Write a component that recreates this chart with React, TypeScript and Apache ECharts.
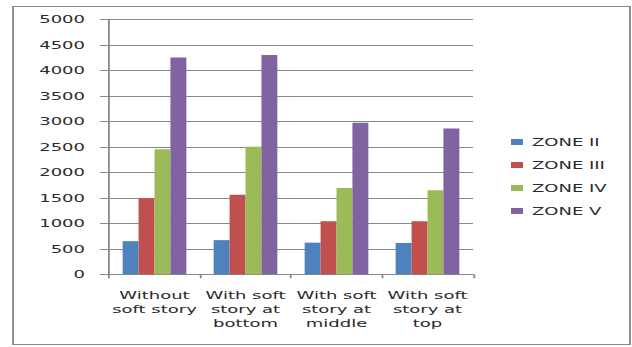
import React, { useEffect, useRef } from "react";
import * as echarts from "echarts";

// Horizontal stretch applied to the whole drawing (wide, spaced-out look)
const STRETCH = 1.8;
const FULL_W = 632;
const FULL_H = 347;

const categories = [
  "Without\nsoft story",
  "With soft\nstory at\nbottom",
  "With soft\nstory at\nmiddle",
  "With soft\nstory at\ntop",
];
const seriesNames = ["ZONE II", "ZONE III", "ZONE IV", "ZONE V"];
const zoneII = [650, 670, 620, 615];
const zoneIII = [1490, 1560, 1040, 1040];
const zoneIV = [2450, 2500, 1690, 1650];
const zoneV = [4250, 4300, 2970, 2860];
const colors = ["#4F81BD", "#C0504D", "#9BBB59", "#8064A2"];

const sx = (x: number) => x / STRETCH;

export default function App() {
  const ref = useRef<HTMLDivElement>(null);

  useEffect(() => {
    if (!ref.current) return;
    const chart = echarts.init(ref.current, null, { renderer: "svg" });
    const font = "DejaVu Sans";
    const textColor = "#2b2b2b";
    const lineColor = "#888";
    const values = [zoneII, zoneIII, zoneIV, zoneV];

    chart.setOption({
      animation: false,
      backgroundColor: "#fff",
      color: colors,
      graphic: [
        {
          type: "rect",
          shape: { x: sx(13), y: 6.5, width: sx(617), height: 338 },
          style: { fill: "none", stroke: "#868686", lineWidth: 1 },
          z: 10,
        },
      ],
      grid: {
        left: sx(109),
        top: 19.3,
        width: sx(473 - 109),
        height: 255,
      },
      legend: {
        orient: "vertical",
        left: sx(511),
        top: 136,
        padding: 0,
        itemWidth: sx(12),
        itemHeight: 6,
        itemGap: 11,
        icon: "rect",
        data: seriesNames,
        textStyle: {
          fontFamily: font,
          fontSize: 10,
          color: textColor,
          lineHeight: 12,
        },
      },
      xAxis: {
        type: "category",
        data: categories,
        axisLine: { lineStyle: { color: lineColor, width: 1 } },
        axisTick: { show: true, length: 4, lineStyle: { color: lineColor } },
        axisLabel: {
          interval: 0,
          margin: 14,
          fontFamily: font,
          fontSize: 10,
          lineHeight: 14,
          color: textColor,
        },
      },
      yAxis: {
        type: "value",
        min: 0,
        max: 5000,
        interval: 500,
        axisLine: { show: true, lineStyle: { color: lineColor, width: 1 } },
        axisTick: { show: true, length: sx(9), lineStyle: { color: lineColor } },
        splitLine: { show: true, lineStyle: { color: lineColor, width: 1 } },
        axisLabel: {
          margin: sx(24),
          fontFamily: font,
          fontSize: 10,
          color: textColor,
          formatter: (v: number) => String(v),
        },
      },
      series: seriesNames.map((name, i) => ({
        name,
        type: "bar",
        data: values[i],
        barGap: "0%",
        barCategoryGap: "30%",
        itemStyle: { color: colors[i] },
      })),
    });

    return () => chart.dispose();
  }, []);

  return (
    <div
      ref={ref}
      style={{
        position: "absolute",
        left: 0,
        top: 0,
        width: FULL_W / STRETCH,
        height: FULL_H,
        transform: `scaleX(${STRETCH})`,
        transformOrigin: "0 0",
      }}
    />
  );
}
